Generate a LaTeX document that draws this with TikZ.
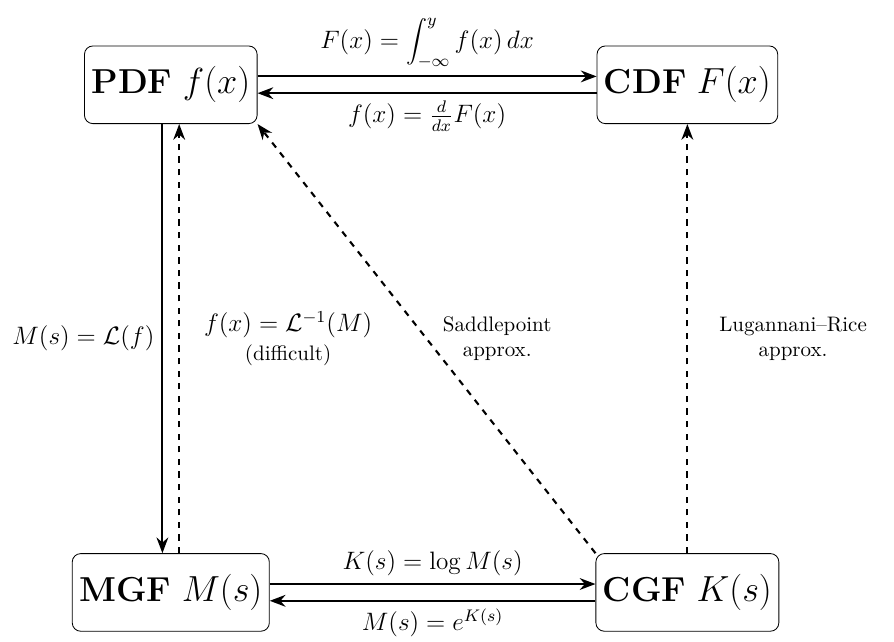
\documentclass[tikz,border=0pt]{standalone}
\usetikzlibrary{arrows.meta}
\begin{document}
\begin{tikzpicture}[box/.style={draw,rounded corners,minimum height=1.3cm,font=\fontsize{16.5}{20}\selectfont},
  conv/.style={line width=1pt,-{Stealth}},approx/.style={line width=1pt,dashed,-{Stealth}},
  lbl/.style={font=\large}]
\useasboundingbox (-2.86,-9.32) rectangle (12.11,1.42);
\node[box] (pdf) at (0,0) {\textbf{PDF} $f(x)$};
\node[box] (cdf) at (8.65,0) {\textbf{CDF} $F(x)$};
\node[box] (mgf) at (0,-8.5) {\textbf{MGF} $M(s)$};
\node[box] (cgf) at (8.65,-8.5) {\textbf{CGF} $K(s)$};
% PDF <-> CDF
\draw[conv] ([yshift=4pt]pdf.east) -- node[lbl,above] {$\displaystyle F(x)=\int_{-\infty}^{y} f(x)\,dx$} ([yshift=4pt]cdf.west);
\draw[conv] ([yshift=-4pt]cdf.west) -- node[lbl,below] {$f(x)=\frac{d}{dx}F(x)$} ([yshift=-4pt]pdf.east);
% PDF <-> MGF
\draw[conv] ([xshift=-4pt]pdf.south) -- node[lbl,left] {$M(s)=\mathcal{L}(f)$} ([xshift=-4pt]mgf.north);
\draw[approx] ([xshift=4pt]mgf.north) -- node[lbl,right=8pt,align=center] {$f(x)=\mathcal{L}^{-1}(M)$\\{\normalsize(difficult)}} ([xshift=4pt]pdf.south);
% MGF <-> CGF
\draw[conv] ([yshift=4pt]mgf.east) -- node[lbl,above] {$K(s)=\log M(s)$} ([yshift=4pt]cgf.west);
\draw[conv] ([yshift=-4pt]cgf.west) -- node[lbl,below] {$M(s)=e^{K(s)}$} ([yshift=-4pt]mgf.east);
% approximations from the CGF
\draw[approx] (cgf.north west) -- node[right=4pt,align=center] {Saddlepoint\\approx.} (pdf.south east);
\draw[approx] (cgf.north) -- node[right=0.4cm,align=center] {Lugannani--Rice\\approx.} (cdf.south);
\end{tikzpicture}
\end{document}
